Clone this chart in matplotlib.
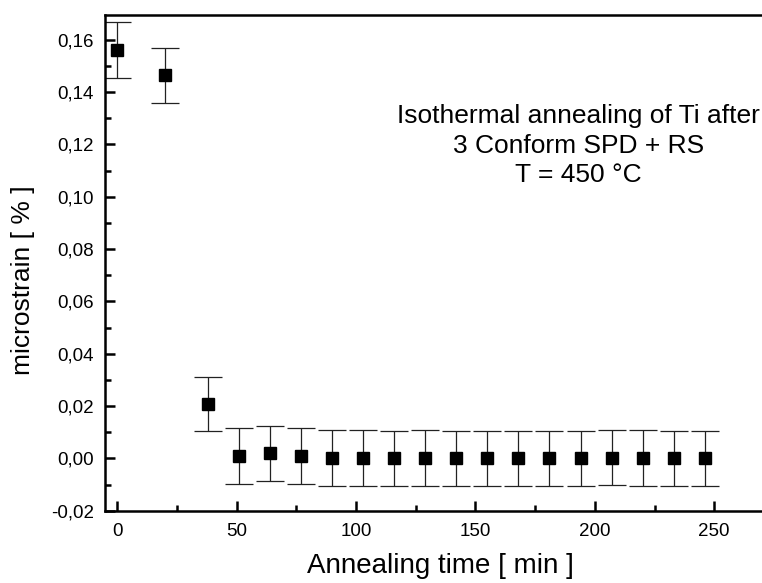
import matplotlib
matplotlib.use('Agg')
import matplotlib.pyplot as plt
from matplotlib.ticker import MultipleLocator, FuncFormatter

plt.rcParams['font.family'] = 'Liberation Sans'

# annealing time [min] and microstrain [%]
time_min = [0, 20, 38, 51, 64, 77, 90, 103, 116, 129, 142, 155, 168, 181, 194, 207, 220, 233, 246]
strain = [0.1561, 0.1465, 0.0208, 0.0009, 0.0019, 0.0009, 0.0002, 0.0002, 0.0, 0.0002,
          0.0, 0.0, 0.0, 0.0, 0.0, 0.0003, 0.0002, 0.0, 0.0]
strain_err = [0.0108, 0.0105, 0.0105, 0.0106, 0.0106, 0.0106, 0.0106, 0.0106, 0.0106, 0.0106,
              0.0106, 0.0106, 0.0106, 0.0106, 0.0106, 0.0106, 0.0106, 0.0106, 0.0106]

fig = plt.figure(figsize=(7.62, 5.83), dpi=100)
ax = fig.add_axes([105 / 762, 72.3 / 583, 657 / 762, 495.7 / 583])

ax.errorbar(time_min, strain, yerr=strain_err, fmt='s', color='black',
            ecolor='#222222', elinewidth=0.9, capsize=10, capthick=0.9,
            markersize=8)

ax.set_xlim(-5.15, 270)
ax.set_ylim(-0.02, 0.1695)

ax.xaxis.set_major_locator(MultipleLocator(50))
ax.xaxis.set_minor_locator(MultipleLocator(25))
ax.yaxis.set_major_locator(MultipleLocator(0.02))
ax.yaxis.set_minor_locator(MultipleLocator(0.01))
ax.yaxis.set_major_formatter(FuncFormatter(lambda v, p: '{:.2f}'.format(v).replace('.', ',')))

ax.tick_params(which='both', direction='in', width=1.8, labelsize=13.5,
               top=False, right=False)
ax.tick_params(axis='y', pad=8)
ax.tick_params(axis='x', pad=9)
ax.tick_params(which='major', length=7)
ax.tick_params(which='minor', length=4)

for side in ['left', 'bottom', 'top']:
    ax.spines[side].set_linewidth(1.8)
ax.spines['right'].set_visible(False)

ax.set_xlabel('Annealing time [ min ]', fontsize=20)
ax.xaxis.set_label_coords(0.51, -0.085)
ax.set_ylabel('microstrain [ % ]', fontsize=19)
ax.yaxis.set_label_coords(-0.106, 0.465)

ax.text(193.2, 0.1195, 'Isothermal annealing of Ti after\n3 Conform SPD + RS\nT = 450 °C',
        ha='center', va='center', fontsize=19, linespacing=1.3)

fig.savefig('out.png', dpi=100)
